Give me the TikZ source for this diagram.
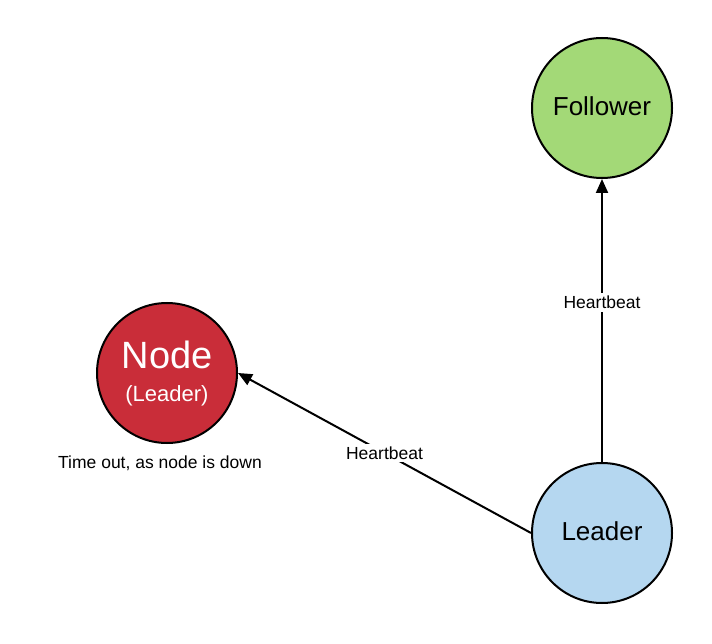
\documentclass[tikz,border=0pt]{standalone}
\usepackage{fontspec}
\setmainfont{Liberation Sans}
\usetikzlibrary{arrows.meta}
\definecolor{redfill}{HTML}{C92D39}
\definecolor{greenfill}{HTML}{A3D977}
\definecolor{bluefill}{HTML}{B5D7F0}
\begin{document}
\begin{tikzpicture}[x=1pt,y=-1pt,
  state/.style={circle,draw=black,line width=2pt,minimum size=140pt,inner sep=0pt},
  conn/.style={line width=2pt,-{Triangle[length=14pt,width=12pt]}},
  lbl/.style={fill=white,inner sep=3pt,font=\fontsize{17.5}{20}\selectfont}]
\useasboundingbox (0,0) rectangle (712,644);
\node[state,fill=greenfill] (follower) at (602,108) {};
\node[font=\fontsize{26}{30}\selectfont] (followert) at (602,106) {Follower};
\node[state,fill=bluefill] (leader) at (602,533) {};
\node[font=\fontsize{26}{30}\selectfont] (leadert) at (602,531) {Leader};
\node[state,fill=redfill] (node) at (167,373) {};
\node[text=white,font=\fontsize{38}{42}\selectfont] (nodet) at (167,355) {Node};
\node[text=white,font=\fontsize{22}{26}\selectfont] (nodel) at (167,396) {(Leader)};
\node[font=\fontsize{17.5}{20}\selectfont] (timeout) at (160,463) {Time out, as node is down};
\draw[conn] (leader.north) -- node[lbl,pos=0.565] (hb1) {Heartbeat} (follower.south);
\draw[conn] (leader.west) -- node[lbl,pos=0.5] (hb2) {Heartbeat} (node.east);
\end{tikzpicture}
\end{document}
